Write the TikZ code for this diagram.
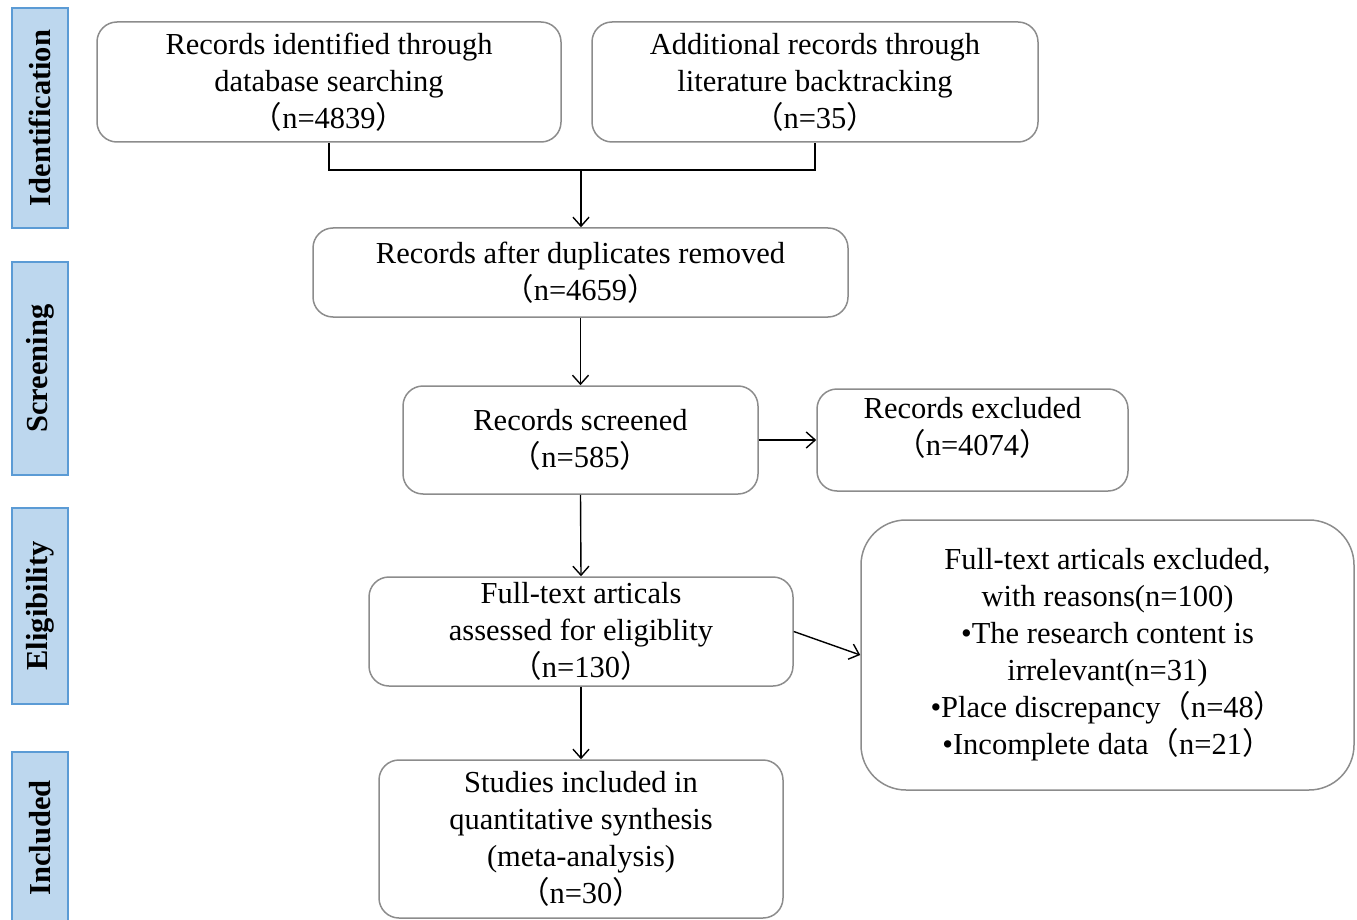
\documentclass[tikz,border=0pt]{standalone}
\usepackage{fontspec}
\setmainfont{Liberation Serif}
\newfontfamily\cjk{Noto Sans CJK SC}
\usetikzlibrary{arrows.meta}
\newcommand\flp{{\cjk （}}
\newcommand\frp{{\cjk ）}}
\definecolor{sidefill}{HTML}{BDD7EE}
\definecolor{sidedraw}{HTML}{5B9BD5}
\definecolor{boxdraw}{HTML}{8C8C8C}
\tikzset{
  box/.style={draw=boxdraw, line width=1.5pt, rounded corners=20pt, align=center,
    inner sep=0pt, font=\fontsize{30.5}{37}\selectfont},
  sidebox/.style={draw=sidedraw, fill=sidefill, line width=1.5pt, inner sep=0pt},
  sidetext/.style={rotate=90, font=\fontsize{30.5}{34}\bfseries\selectfont},
  arr/.style={line width=1.4pt, -{Straight Barb[length=9pt,width=16pt,line width=1.4pt]}},
  conn/.style={line width=1.4pt},
}
\begin{document}
\begin{tikzpicture}[x=1pt,y=-1pt]
\useasboundingbox (0,0) rectangle (1357,920);
% side labels
\node[sidebox, minimum width=56pt, minimum height=220pt] (s1) at (40,118) {};
\node[sidetext] (s1t) at (s1.center) {Identification};
\node[sidebox, minimum width=56pt, minimum height=213pt] (s2) at (40,368.5) {};
\node[sidetext] (s2t) at (s2.center) {Screening};
\node[sidebox, minimum width=56pt, minimum height=196pt] (s3) at (40,606) {};
\node[sidetext] (s3t) at (s3.center) {Eligibility};
\node[sidebox, minimum width=56pt, minimum height=172pt] (s4) at (40,838) {};
\node[sidetext] (s4t) at (s4.center) {Included};
% boxes
\node[box, minimum width=464pt, minimum height=120pt] (A) at (329,82)
  {Records identified through\\database searching\\\flp n=4839\frp};
\node[box, minimum width=446pt, minimum height=120pt] (B) at (815,82)
  {Additional records through\\literature backtracking\\\flp n=35\frp};
\node[box, minimum width=535pt, minimum height=89pt] (C) at (580.5,272.5)
  {Records after duplicates removed\\\flp n=4659\frp};
\node[box, minimum width=355pt, minimum height=108pt] (D) at (580.5,440)
  {Records screened\\\flp n=585\frp};
\node[box, minimum width=311pt, minimum height=102pt] (E) at (972.5,440) {};
\node[box, draw=none] (Et) at (972.5,428) {Records excluded\\\flp n=4074\frp};
\node[box, minimum width=424pt, minimum height=109pt] (F) at (581,631.5)
  {Full-text articals\\assessed for eligiblity\\\flp n=130\frp};
\node[box, rounded corners=45pt, minimum width=493pt, minimum height=270pt] (G) at (1107.5,655)
  {Full-text articals excluded,\\with reasons(n=100)\\•The research content is\\irrelevant(n=31)\\•Place discrepancy\flp n=48\frp\\•Incomplete data\flp n=21\frp};
\node[box, minimum width=404pt, minimum height=158pt] (H) at (581,839)
  {Studies included in\\quantitative synthesis\\(meta-analysis)\\\flp n=30\frp};
% connectors
\coordinate (j) at (581,170);
\draw[conn] (A.south) -- (A.south |- j) -- (B.south |- j) -- (B.south);
\draw[arr] (j) -- (C.north -| j);
\draw[arr] (C.south) -- (D.north);
\draw[arr] (D.east) -- (E.west);
\draw[arr] (D.south) -- (F.north);
\draw[arr] (F.east) -- (G.west);
\draw[arr] (F.south) -- (H.north);
\end{tikzpicture}
\end{document}
